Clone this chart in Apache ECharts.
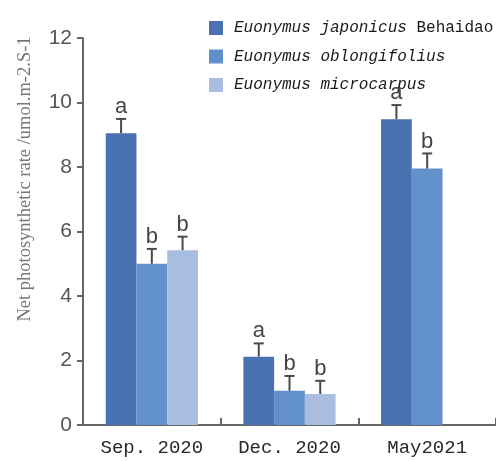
<!DOCTYPE html>
<html>
<head>
<meta charset="utf-8">
<script src="https://cdn.jsdelivr.net/npm/echarts@6/dist/echarts.min.js"></script>
<style>
  html, body { margin: 0; padding: 0; background: #fff; }
  #chart { width: 496px; height: 461px; }
</style>
</head>
<body>
<div id="chart"></div>
<script>
// Sampling dates on the category axis
const categories = ['Sep. 2020', 'Dec. 2020', 'May2021'];

// Species (legend entries)
const speciesNames = ['Euonymus japonicus Behaidao', 'Euonymus oblongifolius', 'Euonymus microcarpus'];

// Mean net photosynthetic rate per species and date (null = not measured)
const japonicusMean = [9.05, 2.12, 9.48];
const oblongifoliusMean = [5.00, 1.06, 7.95];
const microcarpusMean = [5.42, 0.96, null];

// Standard error for each mean
const japonicusErr = [0.44, 0.41, 0.44];
const oblongifoliusErr = [0.46, 0.46, 0.47];
const microcarpusErr = [0.42, 0.41, null];

// Significance letters
const japonicusSig = ['a', 'a', 'a'];
const oblongifoliusSig = ['b', 'b', 'b'];
const microcarpusSig = ['b', 'b', null];

// Y axis ticks
const yTicks = [0, 2, 4, 6, 8, 10, 12];

const colors = ['#4a72b2', '#6290cb', '#a9bde0'];
const means = [japonicusMean, oblongifoliusMean, microcarpusMean];
const errs = [japonicusErr, oblongifoliusErr, microcarpusErr];
const sigs = [japonicusSig, oblongifoliusSig, microcarpusSig];
const gapRatio = 0.33;

// Rows for the error-bar overlay: [category, seriesIndex, mean, err]
const errRows = [];
const errLetters = [];
for (let s = 0; s < 3; s++) {
  for (let c = 0; c < categories.length; c++) {
    if (means[s][c] == null) continue;
    errRows.push([c, s, means[s][c], errs[s][c]]);
    errLetters.push(sigs[s][c]);
  }
}

const chart = echarts.init(document.getElementById('chart'), null, { renderer: 'canvas' });

const barSeries = speciesNames.map((name, i) => ({
  name: name,
  type: 'bar',
  data: means[i].map(v => (v == null ? '-' : v)),
  itemStyle: { color: colors[i] },
  barGap: '0%',
  barCategoryGap: (gapRatio * 100) + '%',
  emphasis: { disabled: true }
}));

const errorSeries = {
  type: 'custom',
  data: errRows,
  encode: { x: 0, y: 2 },
  z: 5,
  silent: true,
  renderItem: function (params, api) {
    const cat = api.value(0);
    const s = api.value(1);
    const mean = api.value(2);
    const err = api.value(3);
    const base = api.coord([cat, mean]);
    const top = api.coord([cat, mean + err]);
    const catW = api.size([1, 0])[0];
    const barW = catW * (1 - gapRatio) / 3;
    const x = base[0] + (s - 1) * barW;
    const capHalf = 5;
    const lineStyle = { stroke: '#4a4a4a', lineWidth: 2 };
    return {
      type: 'group',
      children: [
        { type: 'line', shape: { x1: x, y1: base[1], x2: x, y2: top[1] }, style: lineStyle },
        { type: 'line', shape: { x1: x - capHalf, y1: top[1], x2: x + capHalf, y2: top[1] }, style: lineStyle },
        {
          type: 'text',
          style: {
            text: errLetters[params.dataIndex],
            x: x,
            y: top[1] - 1,
            align: 'center',
            verticalAlign: 'bottom',
            font: '22px "Liberation Sans", Arial, sans-serif',
            fill: '#444'
          }
        }
      ]
    };
  }
};

chart.setOption({
  animation: false,
  backgroundColor: '#ffffff',
  grid: { left: 83, right: -4, top: 38, bottom: 36 },
  legend: {
    orient: 'vertical',
    left: 204,
    top: 15,
    itemWidth: 14,
    itemHeight: 14,
    itemGap: 12.5,
    icon: 'rect',
    selectedMode: false,
    data: speciesNames,
    formatter: function (name) {
      if (name.indexOf('Behaidao') >= 0) {
        return '{i|Euonymus japonicus }{n|Behaidao}';
      }
      return '{i|' + name + '}';
    },
    textStyle: {
      rich: {
        i: { fontFamily: '"Liberation Mono", monospace', fontStyle: 'italic', fontSize: 16, color: '#1a1a1a', padding: [0, 0, 0, 6] },
        n: { fontFamily: '"Liberation Mono", monospace', fontSize: 16, color: '#1a1a1a' }
      }
    }
  },
  xAxis: {
    type: 'category',
    data: categories,
    axisLine: { lineStyle: { color: '#666', width: 2 } },
    axisTick: { show: true, inside: true, length: 7, alignWithLabel: false, lineStyle: { color: '#666', width: 2 } },
    axisLabel: { margin: 13, fontSize: 19, fontFamily: '"Liberation Mono", monospace', color: '#2a2a2a' }
  },
  yAxis: {
    type: 'value',
    min: yTicks[0],
    max: yTicks[yTicks.length - 1],
    interval: 2,
    splitLine: { show: false },
    axisLine: { show: true, lineStyle: { color: '#666', width: 2 } },
    axisTick: { show: true, length: 6, lineStyle: { color: '#666', width: 2 } },
    axisLabel: { margin: 11, fontSize: 21, fontFamily: '"Liberation Sans", Arial, sans-serif', color: '#555' }
  },
  graphic: [
    {
      type: 'text',
      x: 25,
      y: 179,
      rotation: Math.PI / 2,
      style: {
        text: 'Net photosynthetic rate /umol.m-2.S-1',
        align: 'center',
        verticalAlign: 'middle',
        font: '18.5px "Liberation Serif", "Times New Roman", serif',
        fill: '#777'
      }
    }
  ],
  series: barSeries.concat([errorSeries])
});
</script>
</body>
</html>
